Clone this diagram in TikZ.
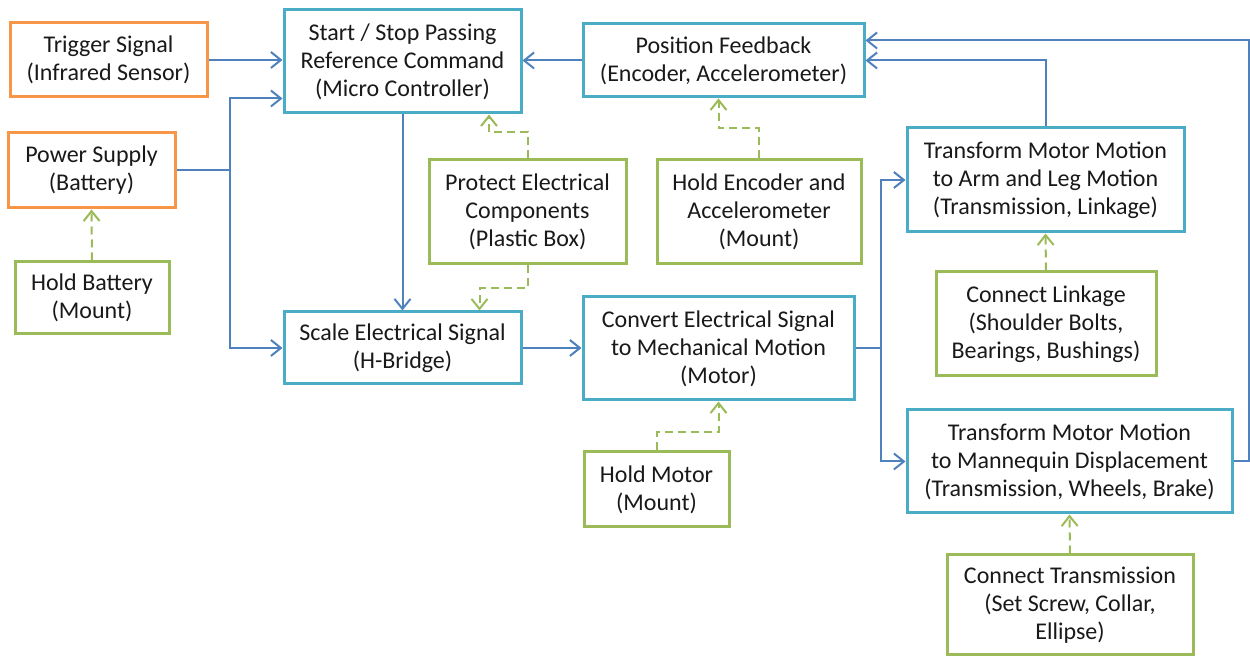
\documentclass[tikz,border=0pt]{standalone}
\usepackage{fontspec}
\setmainfont{Carlito}
\usepackage{tikz}
\usetikzlibrary{arrows.meta,calc}

\definecolor{aquabox}{HTML}{4BACC6}
\definecolor{orangebox}{HTML}{F79646}
\definecolor{greenbox}{HTML}{9BBB59}
\definecolor{wire}{HTML}{4F81BD}

\tikzset{
  block/.style={draw,line width=1.5pt,fill=white,align=center,inner sep=1pt,
    font=\fontsize{12}{14}\selectfont,text=black!90},
  func/.style={block,draw=aquabox},
  source/.style={block,draw=orangebox},
  part/.style={block,draw=greenbox},
  flow/.style={draw=wire,line width=1pt,-{Straight Barb[length=5pt,width=8pt,line width=1pt]}},
  wireline/.style={draw=wire,line width=1pt},
  support/.style={draw=greenbox,line width=1pt,dash pattern=on 4pt off 2.5pt,
    -{Straight Barb[length=5pt,width=8pt,line width=1pt]}}
}

\begin{document}
\begin{tikzpicture}[x=0.5pt,y=-0.5pt]
  \useasboundingbox (0,0) rectangle (1250,657);

  % sources
  \node[source,minimum width=98.5pt,minimum height=37pt] (trig) at (108.5,60)
    {Trigger Signal\\(Infrared Sensor)};
  \node[source,minimum width=83.5pt,minimum height=37.5pt] (power) at (91.5,170.5)
    {Power Supply\\(Battery)};
  \node[part,minimum width=77pt,minimum height=36pt] (holdbat) at (92,298)
    {Hold Battery\\(Mount)};

  % controller and feedback
  \node[func,minimum width=118.5pt,minimum height=51.5pt] (start) at (402.5,61.5)
    {Start / Stop Passing\\Reference Command\\(Micro Controller)};
  \node[func,minimum width=140.5pt,minimum height=36.5pt] (posfb) at (723.5,60.5)
    {Position Feedback\\(Encoder, Accelerometer)};
  \node[part,minimum width=98.5pt,minimum height=52pt] (protect) at (527.5,212)
    {Protect Electrical\\Components\\(Plastic Box)};
  \node[part,minimum width=102pt,minimum height=52pt] (holdenc) at (759,212)
    {Hold Encoder and\\Accelerometer\\(Mount)};

  % drive chain
  \node[func,minimum width=118.5pt,minimum height=36pt] (scale) at (402.5,348)
    {Scale Electrical Signal\\(H-Bridge)};
  \node[func,minimum width=135.5pt,minimum height=51.5pt] (convert) at (718.5,348.5)
    {Convert Electrical Signal\\to Mechanical Motion\\(Motor)};
  \node[part,minimum width=72.5pt,minimum height=37.5pt] (holdmot) at (656.5,489.5)
    {Hold Motor\\(Mount)};

  % transmissions
  \node[func,minimum width=138.5pt,minimum height=52pt] (arm) at (1045.5,180)
    {Transform Motor Motion\\to Arm and Leg Motion\\(Transmission, Linkage)};
  \node[part,minimum width=110pt,minimum height=52pt] (linkage) at (1046,324)
    {Connect Linkage\\(Shoulder Bolts,\\Bearings, Bushings)};
  \node[func,minimum width=162.5pt,minimum height=51.5pt] (manneq) at (1069.5,461.5)
    {Transform Motor Motion\\to Mannequin Displacement\\(Transmission, Wheels, Brake)};
  \node[part,minimum width=123pt,minimum height=50pt] (conntr) at (1070,605)
    {Connect Transmission\\(Set Screw, Collar,\\Ellipse)};

  \coordinate (pj) at (230,170.5);
  \coordinate (cj) at (881,348.5);

  % signal and power flow
  \draw[flow] (trig.east) -- (start.west |- trig.east);
  \draw[wireline] (power.east) -- (pj);
  \draw[flow] (pj) |- ($(start.south west)+(0,-16)$);
  \draw[flow] (pj) |- (scale.west);
  \draw[flow] (start.south) -- (scale.north);
  \draw[flow] (posfb.west) -- (start.east |- posfb.west);
  \draw[flow] (scale.east) -- (convert.west |- scale.east);
  \draw[wireline] (convert.east) -- (cj);
  \draw[flow] (cj) |- (arm.west);
  \draw[flow] (cj) |- (manneq.west);
  \draw[flow] (arm.north) |- (posfb.east);
  \draw[flow] (manneq.east) -- ++(15,0) |- ($(posfb.east)+(0,-20)$);

  % mechanical support
  \draw[support] (holdbat.north) -- (power.south);
  \draw[support] (protect.north) -- ++(0,-26) -| ($(start.south)+(86.5,0)$);
  \draw[support] (protect.south) -- ++(0,23) -| ($(scale.north)+(77,0)$);
  \draw[support] (holdenc.north) -- ++(0,-30) -| ($(posfb.south)+(-5,0)$);
  \draw[support] (holdmot.north) -- ++(0,-18) -| (convert.south);
  \draw[support] (linkage.north) -- (arm.south);
  \draw[support] (conntr.north) -- (manneq.south);
\end{tikzpicture}
\end{document}
